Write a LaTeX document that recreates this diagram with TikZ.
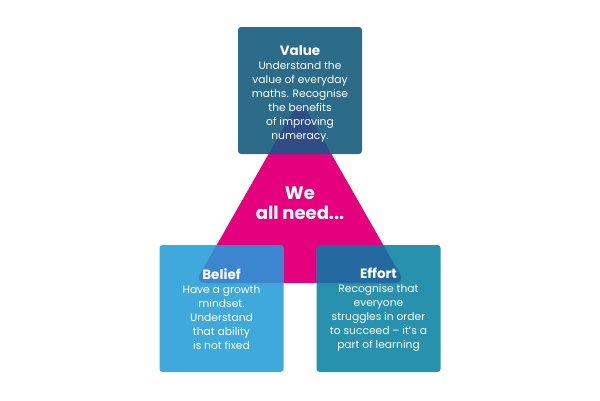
\documentclass[tikz,border=0pt]{standalone}
\usepackage{fontspec}
\setmainfont{Poppins}
\definecolor{tripink}{HTML}{E5007E}
\definecolor{valuec}{HTML}{2C6C89}
\definecolor{valueov}{HTML}{2E4C86}
\definecolor{beliefc}{HTML}{3FA9DC}
\definecolor{beliefov}{HTML}{3C86CF}
\definecolor{effortc}{HTML}{2791AE}
\definecolor{effortov}{HTML}{2369A0}
\begin{document}
\begin{tikzpicture}[x=1pt,y=-1pt,
  card/.style={rounded corners=3pt, minimum width=124pt, minimum height=127pt, inner sep=0pt},
  cardtext/.style={text=white, align=center, inner sep=0pt,
    font=\fontsize{10.7}{14}\selectfont},
  tri/.style={rounded corners=10pt}]
\useasboundingbox (0,0) rectangle (600,400);
\coordinate (tA) at (300,99);
\coordinate (tB) at (195,283);
\coordinate (tC) at (405,283);
\fill[tripink, tri] (tA) -- (tB) -- (tC) -- cycle;
\node[card, fill=valuec, path picture={\fill[valueov, tri] (tA) -- (tB) -- (tC) -- cycle;}]
  (value) at (300,90.5) {};
\node[card, fill=beliefc, path picture={\fill[beliefov, tri] (tA) -- (tB) -- (tC) -- cycle;}]
  (belief) at (221.5,308.5) {};
\node[card, fill=effortc, path picture={\fill[effortov, tri] (tA) -- (tB) -- (tC) -- cycle;}]
  (effort) at (378.5,308.5) {};
\node[cardtext] (valuetxt) at ([yshift=-3pt]value.center) {{\bfseries\fontsize{13.5}{14}\selectfont Value}\\Understand the\\value of everyday\\maths. Recognise\\the benefits\\of improving\\numeracy.};
\node[cardtext] (belieftxt) at ([yshift=-1pt]belief.center) {{\bfseries\fontsize{13.5}{14}\selectfont Belief}\\Have a growth\\mindset.\\Understand\\that ability\\is not fixed};
\node[cardtext] (efforttxt) at ([yshift=-1pt]effort.center) {{\bfseries\fontsize{13.5}{14}\selectfont Effort}\\Recognise that\\everyone\\struggles in order\\to succeed – it’s a\\part of learning};
\node[text=white, align=center, font=\fontsize{18}{20}\selectfont\bfseries] (need) at (300,203) {We\\all need...};
\end{tikzpicture}
\end{document}
